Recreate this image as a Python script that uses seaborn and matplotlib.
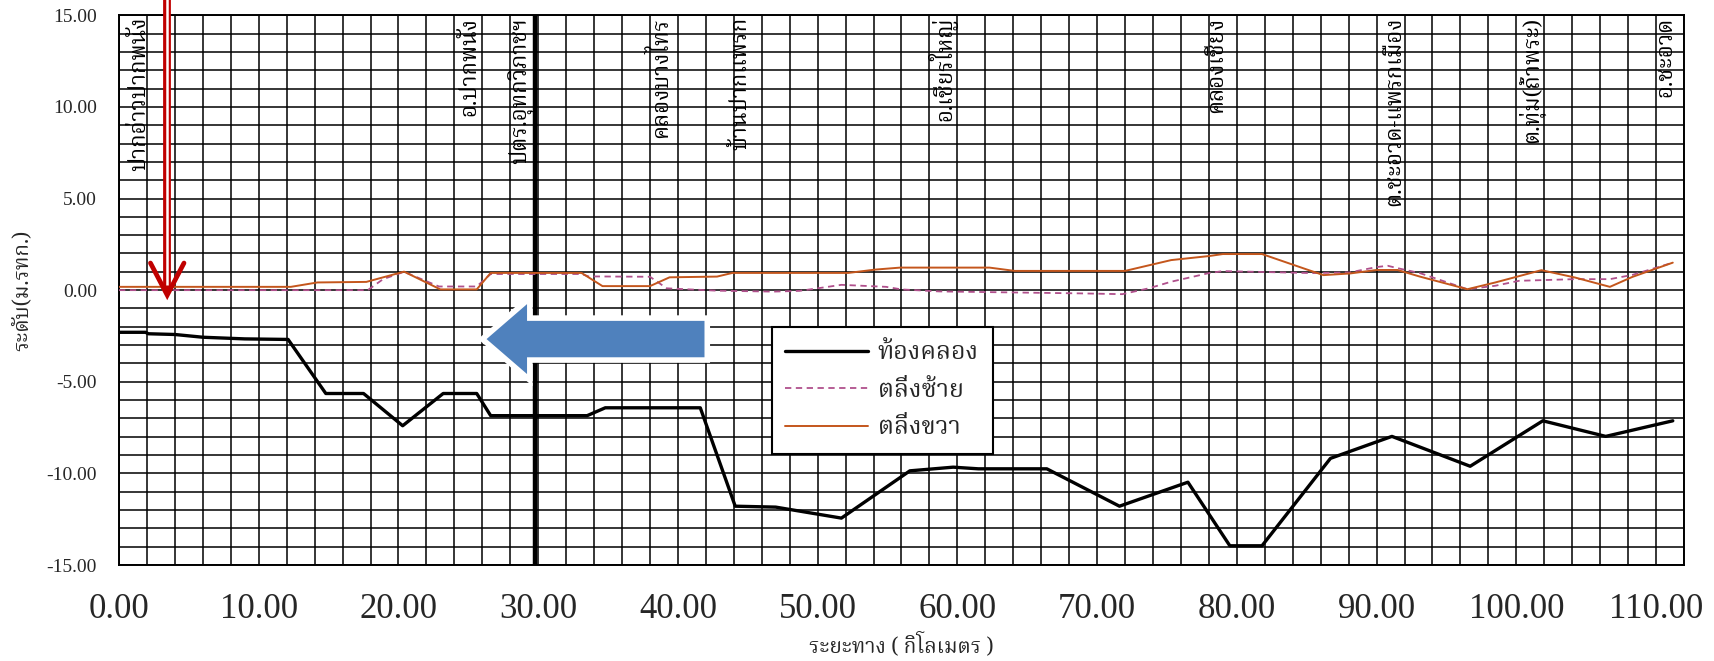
import matplotlib
matplotlib.use("Agg")
import matplotlib.pyplot as plt
import seaborn as sns
import pandas as pd
from matplotlib import font_manager
from matplotlib.patches import FancyArrow
from matplotlib.ticker import MultipleLocator, FormatStrFormatter

# --- data (km, metres MSL) ---
bed_km = [0, 1.9, 2.1, 4.0, 6.0, 9.0, 12.1, 14.8, 17.5, 20.3, 23.2, 25.6, 26.6, 33.5, 34.8,
          41.6, 44.1, 47.0, 51.7, 56.6, 59.7, 61.5, 66.4, 71.6, 76.5, 79.5, 81.8, 86.7,
          91.1, 96.7, 101.9, 106.4, 111.2]
bed_elev = [-2.30, -2.30, -2.38, -2.42, -2.57, -2.66, -2.69, -5.64, -5.64, -7.40, -5.64, -5.64,
            -6.85, -6.85, -6.42, -6.42, -11.79, -11.84, -12.44, -9.86, -9.66, -9.75, -9.75,
            -11.79, -10.48, -13.95, -13.95, -9.18, -7.98, -9.61, -7.13, -7.98, -7.13]

left_km = [0, 17.8, 18.9, 20.4, 22.9, 25.6, 26.6, 33.1, 33.6, 38.0, 39.2, 42.8, 46.8, 48.7,
           50.0, 51.7, 54.9, 56.0, 58.7, 69.1, 71.8, 73.7, 75.3, 78.0, 79.0, 85.4, 88.1,
           90.0, 90.8, 91.5, 93.1, 96.5, 98.5, 100.2, 104.2, 106.7, 108.3, 111.2]
left_elev = [0.0, 0.0, 0.6, 1.0, 0.2, 0.2, 0.88, 0.88, 0.75, 0.73, 0.10, -0.03, -0.08, -0.04,
             0.1, 0.29, 0.18, 0.04, -0.07, -0.18, -0.22, 0.1, 0.46, 0.93, 1.04, 0.93, 0.97,
             1.26, 1.33, 1.2, 0.93, 0.05, 0.24, 0.51, 0.6, 0.6, 0.83, 1.5]

right_km = [0, 12.3, 14.2, 17.7, 20.4, 23.0, 25.6, 26.6, 33.1, 34.6, 38.0, 39.4, 42.8, 43.9,
            52.2, 54.1, 55.9, 62.3, 64.1, 72.0, 75.3, 78.0, 79.0, 81.8, 85.0, 86.2, 88.1,
            90.0, 91.5, 93.1, 96.5, 98.5, 101.8, 104.2, 106.7, 108.3, 111.2]
right_elev = [0.18, 0.18, 0.42, 0.45, 1.01, 0.04, 0.04, 0.94, 0.94, 0.22, 0.22, 0.70, 0.74, 0.94,
              0.94, 1.12, 1.23, 1.23, 1.05, 1.05, 1.64, 1.86, 1.97, 1.97, 1.13, 0.82, 0.91,
              1.10, 1.10, 0.74, 0.05, 0.42, 1.09, 0.69, 0.18, 0.72, 1.5]

series_names = ["ท้องคลอง", "ตลิ่งซ้าย", "ตลิ่งขวา"]

# station names along the canal
station_km = [1.46, 25.1, 28.8, 38.7, 44.5, 58.9, 78.5, 91.3, 101.1, 110.7]
station_names = ["ปากอ่าวปากพนัง", "อ.ปากพนัง", "ปตร.อุทกวิภาชฯ", "คลองบางไทร", "บ้านปากแพรก",
                 "อ.เชียรใหญ่", "คลองเชียง", "ต.ชะอวด-แพรกเมือง", "ต.ทุ่ม(ถ้ำพระ)", "อ.ชะอวด"]

gate_km = 29.8


def find_thai_font():
    try:
        from fontTools.ttLib import TTFont
    except ImportError:
        return None
    found = []
    for f in font_manager.fontManager.ttflist:
        try:
            tt = TTFont(f.fname, fontNumber=0, lazy=True)
            cmap = tt.getBestCmap() or {}
        except Exception:
            continue
        if 0x0E01 in cmap and 0x0E49 in cmap and f.name not in found:
            found.append(f.name)
    prefs = ["Noto Serif Thai", "Norasi", "Kinnari", "Laksaman", "TH Sarabun New",
             "Noto Sans Thai", "Loma", "Garuda", "Waree", "Umpush", "Sawasdee"]
    for p in prefs:
        if p in found:
            return p
    return found[0] if found else None


sns.set_style("white")
plt.rcParams["axes.unicode_minus"] = False
thai = find_thai_font()
thai_family = [thai, "DejaVu Sans"] if thai else ["DejaVu Sans"]
num_family = ["Liberation Serif", "DejaVu Serif"]

fig = plt.figure(figsize=(17.15, 6.61), dpi=100)
ax = fig.add_axes([0.0694, 0.1452, 0.9125, 0.8317])

df_bed = pd.DataFrame({"km": bed_km, "elev": bed_elev})
df_left = pd.DataFrame({"km": left_km, "elev": left_elev})
df_right = pd.DataFrame({"km": right_km, "elev": right_elev})

sns.lineplot(data=df_bed, x="km", y="elev", ax=ax, sort=False, estimator=None,
             color="black", lw=2.4, label=series_names[0], zorder=4)
sns.lineplot(data=df_left, x="km", y="elev", ax=ax, sort=False, estimator=None,
             color="#B0508C", lw=1.3, label=series_names[1], zorder=3)
ax.lines[-1].set_linestyle((0, (3.5, 2.5)))
sns.lineplot(data=df_right, x="km", y="elev", ax=ax, sort=False, estimator=None,
             color="#C4561C", lw=1.4, label=series_names[2], zorder=3)

ax.set_xlim(0, 112)
ax.set_ylim(-15, 15)
ax.xaxis.set_major_locator(MultipleLocator(10))
ax.xaxis.set_minor_locator(MultipleLocator(2))
ax.yaxis.set_major_locator(MultipleLocator(5))
ax.yaxis.set_minor_locator(MultipleLocator(1))
ax.xaxis.set_major_formatter(FormatStrFormatter("%.2f"))
ax.yaxis.set_major_formatter(FormatStrFormatter("%.2f"))
ax.tick_params(axis="both", which="major", direction="out", length=8, width=1.3, color="black")
ax.tick_params(axis="both", which="minor", length=0)
ax.tick_params(axis="x", which="major", pad=12)
ax.tick_params(axis="y", which="major", pad=8)
for lab in ax.get_xticklabels():
    lab.set_family(num_family)
    lab.set_fontsize(25)
for lab in ax.get_yticklabels():
    lab.set_family(num_family)
    lab.set_fontsize(14)

ax.set_axisbelow(True)
ax.grid(which="both", color="black", lw=1.1)
for s in ax.spines.values():
    s.set_color("black")
    s.set_linewidth(1.4)

# sluice gate line
ax.axvline(gate_km, color="black", lw=3.2, zorder=2)

# station names written vertically from the top
for km, name in zip(station_km, station_names):
    ax.text(km, 14.9, name, rotation=90, ha="center", va="top", fontsize=16,
            family=thai_family, color="black", zorder=5)

ax.set_xlabel("ระยะทาง ( กิโลเมตร )", family=thai_family, fontsize=15, fontweight="bold")
ax.xaxis.set_label_coords(0.5, -0.1455)
ax.xaxis.label.set_va("center")
ax.set_ylabel("ระดับ(ม.รทก.)", family=thai_family, fontsize=15, fontweight="bold")
ax.yaxis.set_label_coords(-0.055, 0.5)

# blue flow arrow (pointing downstream)
ax.add_patch(FancyArrow(42.1, -2.67, -16.1, 0, width=2.29, head_width=4.48, head_length=3.4,
                        length_includes_head=True, fc="#4F81BD", ec="white", lw=4, zorder=6))

# red marker arrow at the estuary
arrow_x = 3.45
ax.plot([arrow_x, arrow_x], [16.2, -0.1], color="#C00000", lw=5.6, clip_on=False, zorder=7,
        solid_capstyle="butt")
ax.plot([arrow_x, arrow_x], [16.2, 0.3], color="white", lw=1.8, clip_on=False, zorder=7,
        solid_capstyle="butt")
ax.plot([arrow_x - 1.2, arrow_x, arrow_x + 1.2], [1.48, -0.27, 1.48], color="#C00000", lw=3.4,
        solid_capstyle="round", solid_joinstyle="miter", clip_on=False, zorder=8)

leg = ax.legend(loc="upper left", bbox_to_anchor=(0.417, 0.4335), borderaxespad=0,
                frameon=True, fancybox=False, framealpha=1, edgecolor="black",
                prop={"family": thai_family, "size": 18}, handlelength=3.3,
                labelspacing=0.5, borderpad=0.55, handletextpad=0.4)
leg.get_frame().set_linewidth(1.5)
leg.set_zorder(9)

fig.savefig("out.png", dpi=100)
